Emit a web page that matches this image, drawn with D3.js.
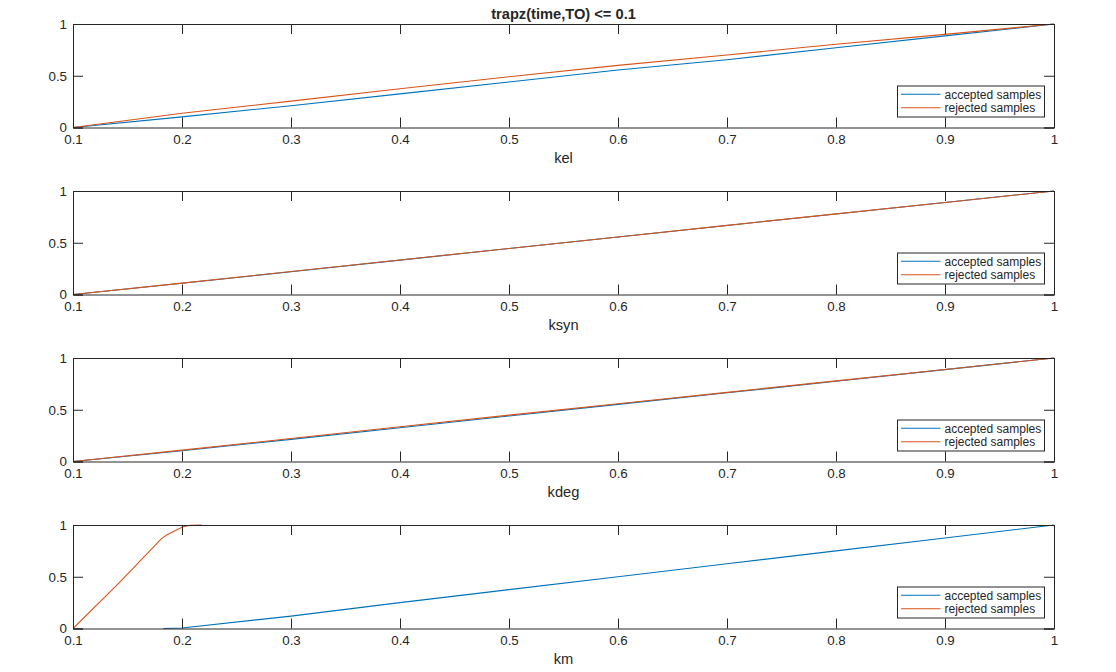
<!DOCTYPE html>
<html>
<head>
<meta charset="utf-8">
<script src="https://cdn.jsdelivr.net/npm/d3@7"></script>
<style>
  html, body { margin: 0; padding: 0; background: #fff; }
  svg { display: block; font-family: "Liberation Sans", Arial, sans-serif; }
  .tick text { font-size: 13.33px; font-family: "Liberation Sans", Arial, sans-serif; }
</style>
</head>
<body>
<svg id="chart" width="1116" height="672"></svg>
<script>
// ---- data ----
const titleText = "trapz(time,TO) <= 0.1";
const panelLabels = ["kel", "ksyn", "kdeg", "km"];
const seriesNames = ["accepted samples", "rejected samples"];
const xTicks = [0.1, 0.2, 0.3, 0.4, 0.5, 0.6, 0.7, 0.8, 0.9, 1];
const yTicks = [0, 0.5, 1];

const gridX = [0.1, 0.2, 0.3, 0.4, 0.5, 0.6, 0.7, 0.8, 0.9, 1.0];
const kelAccepted  = [0, 0.103, 0.21, 0.325, 0.44, 0.555, 0.655, 0.77, 0.885, 1];
const kelRejected  = [0, 0.138, 0.255, 0.375, 0.49, 0.60, 0.70, 0.805, 0.90, 1];
const ksynAccepted = [0, 0.108, 0.22, 0.332, 0.444, 0.556, 0.667, 0.778, 0.889, 1];
const ksynRejected = [0, 0.110, 0.222, 0.334, 0.445, 0.556, 0.668, 0.779, 0.889, 1];
const kdegAccepted = [0, 0.104, 0.214, 0.326, 0.440, 0.552, 0.664, 0.775, 0.888, 1];
const kdegRejected = [0, 0.110, 0.222, 0.335, 0.448, 0.558, 0.668, 0.779, 0.889, 1];
const kmAcceptedX  = [0.183, 0.2, 0.3, 0.4, 0.5, 0.6, 0.7, 0.8, 0.9, 1.0];
const kmAcceptedY  = [0, 0.005, 0.12, 0.25, 0.376, 0.5, 0.625, 0.75, 0.875, 1];
const kmRejectedX  = [0.1, 0.1416, 0.15, 0.1814, 0.186, 0.1936, 0.201, 0.2073, 0.218];
const kmRejectedY  = [0, 0.434, 0.525, 0.871, 0.903, 0.945, 0.984, 0.996, 1];

const zip = (xs, ys) => xs.map((x, i) => [x, ys[i]]);
const panels = [
  { label: panelLabels[0], acc: zip(gridX, kelAccepted),  rej: zip(gridX, kelRejected) },
  { label: panelLabels[1], acc: zip(gridX, ksynAccepted), rej: zip(gridX, ksynRejected) },
  { label: panelLabels[2], acc: zip(gridX, kdegAccepted), rej: zip(gridX, kdegRejected) },
  { label: panelLabels[3], acc: zip(kmAcceptedX, kmAcceptedY), rej: zip(kmRejectedX, kmRejectedY) }
];

// ---- layout ----
const colors = ["#0072BD", "#D95319"];
const axisColor = "#262626";
const left = 73, right = 1054;
const firstTop = 24, panelStep = 167, panelH = 103.5;
const tickLen = 10;

const svg = d3.select("#chart");

svg.append("text")
  .attr("x", (left + right) / 2).attr("y", 19)
  .attr("text-anchor", "middle")
  .attr("font-size", 14.67).attr("font-weight", "bold")
  .attr("fill", axisColor)
  .text(titleText);

const x = d3.scaleLinear().domain([0.1, 1]).range([left, right]);

panels.forEach((p, i) => {
  const top = firstTop + i * panelStep;
  const bottom = top + panelH;
  const y = d3.scaleLinear().domain([0, 1]).range([bottom, top]);
  const g = svg.append("g");

  const clipId = "clip" + i;
  svg.append("clipPath").attr("id", clipId)
    .append("rect").attr("x", left).attr("y", top - 1)
    .attr("width", right - left).attr("height", panelH + 2);

  const line = d3.line().x(d => x(d[0])).y(d => y(d[1]));
  [p.acc, p.rej].forEach((s, k) => {
    g.append("path").datum(s)
      .attr("d", line)
      .attr("fill", "none")
      .attr("stroke", colors[k])
      .attr("stroke-width", 1.1)
      .attr("clip-path", `url(#${clipId})`);
  });

  const xAxisB = d3.axisBottom(x).tickValues(xTicks).tickSize(-tickLen).tickPadding(7)
    .tickFormat(d3.format("~g"));
  const xAxisT = d3.axisTop(x).tickValues(xTicks).tickSize(-tickLen).tickFormat("");
  const yAxisL = d3.axisLeft(y).tickValues(yTicks).tickSize(-tickLen).tickPadding(6)
    .tickFormat(d3.format("~g"));
  const yAxisR = d3.axisRight(y).tickValues(yTicks).tickSize(-tickLen).tickFormat("");

  const axes = [
    [xAxisB, `translate(0,${bottom})`],
    [xAxisT, `translate(0,${top})`],
    [yAxisL, `translate(${left},0)`],
    [yAxisR, `translate(${right},0)`]
  ];
  axes.forEach(([ax, tr]) => {
    const a = g.append("g").attr("transform", tr).call(ax)
      .attr("font-size", null).attr("font-family", null);
    a.select(".domain").attr("stroke", axisColor).attr("stroke-width", 1);
    a.selectAll(".tick line").attr("stroke", axisColor).attr("stroke-width", 1);
    a.selectAll(".tick text").attr("fill", axisColor);
  });

  g.append("text")
    .attr("x", (left + right) / 2).attr("y", bottom + 35)
    .attr("text-anchor", "middle")
    .attr("font-size", 14.67).attr("fill", axisColor)
    .text(p.label);

  const lx = 897.5, ly = top + 62, lw = 147, lh = 31;
  const leg = g.append("g");
  leg.append("rect").attr("x", lx).attr("y", ly).attr("width", lw).attr("height", lh)
    .attr("fill", "#fff").attr("stroke", axisColor).attr("stroke-width", 1);
  seriesNames.forEach((name, k) => {
    const cy = ly + 8.3 + k * 13.4;
    leg.append("line").attr("x1", lx + 3.5).attr("x2", lx + 43).attr("y1", cy).attr("y2", cy)
      .attr("stroke", colors[k]).attr("stroke-width", 1.1);
    leg.append("text").attr("x", lx + 47).attr("y", cy).attr("dy", "0.35em")
      .attr("font-size", 12).attr("fill", axisColor).text(name);
  });
});
</script>
</body>
</html>
